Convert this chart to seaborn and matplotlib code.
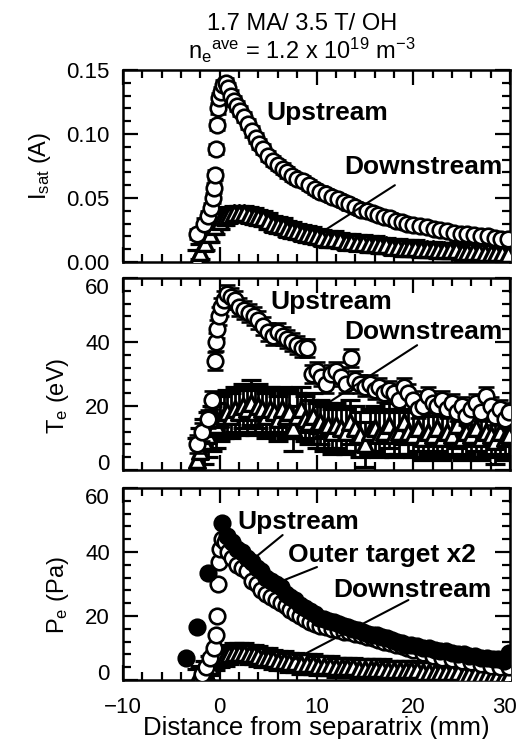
import numpy as np
import pandas as pd
import matplotlib
matplotlib.use("Agg")
import matplotlib.pyplot as plt
import matplotlib.transforms as mtransforms
from matplotlib.ticker import MultipleLocator, FormatStrFormatter
import seaborn as sns

# ---------------- data ----------------
# Isat upstream (circles)
isat_up_x = [-2.3, -1.6, -1.2, -0.9, -0.7, -0.6, -0.5, -0.4, -0.3, -0.2, -0.1, 0.1, 0.3, 0.6, 0.9,
             1.2, 1.5, 1.8, 2.1, 2.5, 2.9, 3.3, 3.7, 4.1, 4.5, 5.0, 5.5, 6.0, 6.5, 7.0, 7.5, 8.0,
             8.6, 9.2, 9.8, 10.4, 11.0, 11.6, 12.2, 12.8, 13.4, 14.0, 14.6, 15.2, 15.8, 16.4, 17.0,
             17.6, 18.2, 18.8, 19.4, 20.0, 20.7, 21.4, 22.1, 22.8, 23.5, 24.2, 24.9, 25.6, 26.3,
             27.0, 27.7, 28.4, 29.1, 29.8]
isat_up_y = [0.022, 0.030, 0.036, 0.042, 0.050, 0.058, 0.068, 0.088, 0.107, 0.120, 0.128, 0.133, 0.138,
             0.140, 0.136, 0.130, 0.126, 0.122, 0.118, 0.113, 0.108, 0.102, 0.097, 0.092, 0.088, 0.083,
             0.079, 0.076, 0.073, 0.070, 0.067, 0.065, 0.063, 0.060, 0.057, 0.055, 0.053, 0.051, 0.049,
             0.047, 0.045, 0.043, 0.041, 0.040, 0.038, 0.037, 0.035, 0.034, 0.032, 0.031, 0.030, 0.029,
             0.028, 0.027, 0.026, 0.025, 0.024, 0.023, 0.022, 0.022, 0.021, 0.020, 0.020, 0.019, 0.018,
             0.018]
isat_up_err = 0.004
# Isat downstream (triangles)
isat_dn_x = [-2.4, -2.0, -1.5, -1.0, -0.5, 0.0, 0.5, 1.0, 1.5, 2.0, 2.5, 3.0, 3.5, 4.0, 4.5, 5.0,
             5.5, 6.0, 6.5, 7.0, 7.5, 8.0, 8.5, 9.0, 9.5, 10.0, 10.6, 11.2, 11.8, 12.4, 13.0, 13.6,
             14.2, 14.8, 15.4, 16.0, 16.6, 17.2, 17.8, 18.4, 19.0, 19.6, 20.2, 20.8, 21.4, 22.0,
             22.6, 23.2, 23.8, 24.4, 25.0, 25.6, 26.2, 26.8, 27.4, 28.0, 28.6, 29.2, 29.8]
isat_dn_y = [0.003, 0.008, 0.015, 0.022, 0.028, 0.032, 0.035, 0.037, 0.038, 0.038, 0.038, 0.037, 0.036,
             0.035, 0.034, 0.032, 0.030, 0.029, 0.028, 0.026, 0.025, 0.024, 0.023, 0.022, 0.021, 0.020,
             0.019, 0.018, 0.018, 0.017, 0.016, 0.016, 0.015, 0.015, 0.014, 0.014, 0.013, 0.013, 0.012,
             0.012, 0.011, 0.011, 0.011, 0.010, 0.010, 0.010, 0.009, 0.009, 0.009, 0.009, 0.008, 0.008,
             0.008, 0.008, 0.007, 0.007, 0.007, 0.007, 0.006]
isat_dn_err = 0.006

# Te upstream (circles)
te_up_x = [-2.3, -1.8, -1.2, -0.8, -0.5, -0.4, -0.3, -0.1, 0.1, 0.4, 0.8, 1.2, 1.6, 2.0, 2.5, 3.0,
           3.5, 4.0, 4.5, 5.0, 5.5, 6.0, 6.5, 7.0, 7.5, 8.0, 8.5, 9.0, 9.5, 10.0, 10.5, 11.0, 11.5,
           12.0, 12.5, 13.0, 13.6, 14.0, 14.5, 15.0, 15.5, 16.0, 16.5, 17.0, 17.5, 18.0, 18.5, 19.0,
           19.5, 20.0, 20.5, 21.0, 21.5, 22.0, 22.5, 23.0, 23.5, 24.0, 24.5, 25.0, 25.5, 26.0, 26.5,
           27.0, 27.5, 28.0, 28.5, 29.0, 29.5, 29.9]
te_up_y = [8, 12, 16, 22, 34, 40, 44, 48, 51, 53, 55, 54, 53, 51, 50, 49, 48, 47, 45, 43, 42, 43, 42,
           41, 40, 39, 38, 38, 30, 31, 29, 27, 30, 31, 29, 27, 35, 28, 27, 26, 27, 25, 26, 24, 25, 24,
           22, 26, 24, 22, 19, 20, 23, 21, 20, 22, 19, 21, 18, 20, 17, 19, 21, 18, 23, 20, 17, 19, 16,
           18]
te_up_err = 2.8
# Te downstream (triangles)
te_dn_x = [-2.4, -2.0, -1.6, -1.2, -0.8, -0.4, 0.0, 0.4, 0.8, 1.2, 1.6, 2.0, 2.4, 2.8, 3.2, 3.6, 4.0,
           4.4, 4.8, 5.2, 5.6, 6.0, 6.4, 6.8, 7.2, 7.6, 8.0, 8.4, 8.8, 9.2, 9.6, 10.0, 10.4, 10.8,
           11.2, 11.6, 12.0, 12.5, 13.0, 13.5, 14.0, 14.5, 15.0, 15.5, 16.0, 16.5, 17.0, 17.5, 18.0,
           18.5, 19.0, 19.5, 20.0, 20.5, 21.0, 21.5, 22.0, 22.5, 23.0, 23.5, 24.0, 24.5, 25.0, 25.5,
           26.0, 26.5, 27.0, 27.5, 28.0, 28.5, 29.0, 29.5, 29.9]
te_dn_y = [3, 6, 9, 11, 13, 14, 16, 17, 18, 17, 19, 18, 20, 19, 21, 18, 20, 19, 17, 19, 18, 16, 19,
           17, 18, 13, 17, 19, 16, 15, 17, 14, 15, 13, 14, 12, 14, 13, 12, 15, 13, 11, 8, 12, 13, 11,
           12, 14, 11, 12, 15, 12, 11, 13, 10, 12, 11, 13, 10, 12, 11, 14, 10, 12, 11, 13, 10, 12, 11,
           9, 12, 10, 11]
te_dn_err = 7

# Pe upstream (open circles)
pe_up_x = [-1.8, -1.4, -1.0, -0.6, -0.4, -0.3, -0.2, -0.1, 0.0, 0.2, 0.5, 0.9, 1.3, 1.8, 2.3, 2.8,
           3.3, 3.8, 4.3, 4.8, 5.3, 5.8, 6.3, 6.8, 7.3, 7.8, 8.3, 8.8, 9.3, 9.8, 10.4, 11.0, 11.6,
           12.2, 12.8, 13.4, 14.0, 14.6, 15.2, 15.8, 16.4, 17.0, 17.6, 18.2, 18.8, 19.4, 20.0, 21.0,
           22.0, 23.0, 24.0, 25.0, 26.0, 27.0, 28.0, 29.0, 29.9]
pe_up_y = [2, 4, 7, 10, 14, 20, 30, 37, 41, 44, 43, 40, 38, 36, 35, 34, 31, 30, 28, 27, 26, 25, 24, 23,
           22, 21, 20, 19, 18, 17.5, 17, 16.5, 16, 15.5, 15, 15, 14.5, 14, 13.5, 13, 12.5, 12, 11.5,
           11, 10.5, 10, 9.5, 8.5, 7.5, 7, 6.5, 6, 5.5, 5, 4.5, 4, 4]
# Pe outer target x2 (filled circles)
pe_tg_x = [-3.5, -2.3, -1.2, 0.2, 0.8, 1.3, 1.8, 2.3, 2.8, 3.3, 3.8, 4.3, 4.8, 5.3, 5.8, 6.3, 6.8,
           7.3, 7.8, 8.3, 8.8, 9.3, 9.8, 10.3, 10.8, 11.3, 11.8, 12.3, 12.8, 13.3, 13.8, 14.3, 14.8,
           15.3, 15.8, 16.3, 16.8, 17.3, 17.8, 18.3, 18.8, 19.3, 19.8, 20.4, 21.0, 21.6, 22.2, 22.8,
           23.4, 24.0, 24.6, 25.2, 25.8, 26.4, 27.0, 27.6, 28.2, 28.8, 29.4, 29.9]
pe_tg_y = [7, 16.6, 33.4, 49, 45, 43, 41, 40, 38, 37, 35, 34, 32, 31, 30, 29, 27, 26, 25, 23.5, 22.5,
           21.5, 20.5, 19.5, 19, 18.5, 18, 17.5, 17, 16.5, 16, 15.5, 15, 14.5, 14, 14, 13.5, 13, 12.5,
           12, 11.5, 11, 11, 10.5, 10, 10, 9.5, 9, 9, 8.5, 8, 8, 7.5, 7.5, 7, 7, 6.5, 6.5, 6, 8.4]
# Pe downstream (triangles)
pe_dn_x = [-2.4, -2.0, -1.5, -1.0, -0.5, 0.0, 0.5, 1.0, 1.5, 2.0, 2.5, 3.0, 3.5, 4.0, 4.5, 5.0, 5.5,
           6.0, 6.6, 7.2, 7.8, 8.4, 9.0, 9.6, 10.2, 10.8, 11.4, 12.0, 12.6, 13.2, 13.8, 14.4, 15.0,
           15.6, 16.2, 16.8, 17.4, 18.0, 18.6, 19.2, 19.8, 20.4, 21.0, 21.6, 22.2, 22.8, 23.4, 24.0,
           24.6, 25.2, 25.8, 26.4, 27.0, 27.6, 28.2, 28.8, 29.4, 29.9]
pe_dn_y = [0.5, 1.5, 3, 4.5, 6, 7, 7.5, 8, 8.5, 8.5, 8.5, 8, 8, 7.5, 7, 7, 6.5, 6, 6, 5.5, 5.5, 5, 5,
           5, 4.5, 4.5, 4.5, 4, 4, 4, 4, 3.5, 3.5, 3.5, 3.5, 3.5, 3, 3, 3, 3, 3, 3, 2.5, 2.5, 2.5, 2.5,
           2.5, 2.5, 2.5, 2, 2, 2, 2, 2, 2, 2, 1.5, 1.5]
pe_dn_err = 3

title1 = "1.7 MA/ 3.5 T/ OH"
title2 = r"n$_e$$^{ave}$ = 1.2 x 10$^{19}$ m$^{-3}$"
xlabel = "Distance from separatrix (mm)"
ylabels = [r"I$_{sat}$ (A)", r"T$_e$ (eV)", r"P$_e$ (Pa)"]
xticks = [-10, 0, 10, 20, 30]

# ---------------- style ----------------
sns.set_theme(style="ticks")
plt.rcParams["font.family"] = ["Liberation Sans", "DejaVu Sans"]
plt.rcParams["mathtext.default"] = "regular"
for k in ["text.color", "axes.labelcolor", "xtick.color", "ytick.color", "axes.edgecolor"]:
    plt.rcParams[k] = "black"

W, H = 520, 739
fig = plt.figure(figsize=(W / 100, H / 100), dpi=100)
left, right = 123 / W, 510 / W
panels_px = [(70, 262), (278, 470), (488, 680)]
axes = []
for top, bot in panels_px:
    ax = fig.add_axes([left, 1 - bot / H, right - left, (bot - top) / H])
    axes.append(ax)

TICK_FS = 16
LAB_FS = 17
XLAB_FS = 18.5
ANN_FS = 19
LW = 1.9


def circles(ax, x, y, filled=False, z=4):
    df = pd.DataFrame({"x": x, "y": y})
    sns.scatterplot(data=df, x="x", y="y", ax=ax, marker="o", s=125,
                    facecolor="black" if filled else "white",
                    edgecolor="black", linewidth=LW, zorder=z, legend=False)


def ebars(ax, x, y, err, z, cap=5.5, lw=1.6):
    ax.errorbar(x, y, yerr=err, fmt="none", ecolor="black",
                elinewidth=lw, capsize=cap, capthick=lw + 0.3, zorder=z)


def triangles(ax, x, y, err, z=3):
    df = pd.DataFrame({"x": x, "y": y})
    ebars(ax, df["x"], df["y"], err, z - 0.5, cap=7, lw=2.0)
    sns.scatterplot(data=df, x="x", y="y", ax=ax, marker="^", s=130,
                    facecolor="white", edgecolor="black", linewidth=2.4,
                    zorder=z, legend=False)


def note(ax, x, y, s):
    ax.text(x, y, s, fontsize=ANN_FS, fontweight="bold",
            ha="center", va="center", zorder=6)


def leader(ax, xs, ys):
    ax.plot(xs, ys, color="black", lw=1.5, zorder=6)


# Panel 1
ax = axes[0]
triangles(ax, isat_dn_x, isat_dn_y, isat_dn_err)
ebars(ax, isat_up_x, isat_up_y, isat_up_err, 3.8)
circles(ax, isat_up_x, isat_up_y)
ax.set_ylim(0, 0.15)
ax.yaxis.set_major_locator(MultipleLocator(0.05))
ax.yaxis.set_minor_locator(MultipleLocator(0.01))
ax.yaxis.set_major_formatter(FormatStrFormatter("%.2f"))
note(ax, 11.1, 0.1164, "Upstream")
note(ax, 21.0, 0.0742, "Downstream")
leader(ax, [18.1, 10.9], [0.060, 0.025])

# Panel 2
ax = axes[1]
triangles(ax, te_dn_x, te_dn_y, te_dn_err)
ebars(ax, te_up_x, te_up_y, te_up_err, 3.8)
circles(ax, te_up_x, te_up_y)
ax.set_ylim(0, 60)
ax.yaxis.set_major_locator(MultipleLocator(20))
ax.yaxis.set_minor_locator(MultipleLocator(4))
note(ax, 11.5, 52.5, "Upstream")
note(ax, 21.0, 43.1, "Downstream")
leader(ax, [20.4, 10.4], [39, 19.4])

# Panel 3
ax = axes[2]
triangles(ax, pe_dn_x, pe_dn_y, pe_dn_err)
circles(ax, pe_up_x, pe_up_y, z=4)
circles(ax, pe_tg_x, pe_tg_y, filled=True, z=4.5)
ax.set_ylim(0, 60)
ax.yaxis.set_major_locator(MultipleLocator(20))
ax.yaxis.set_minor_locator(MultipleLocator(4))
note(ax, 8.1, 49.4, "Upstream")
leader(ax, [6.5, 3.1], [45.3, 36.9])
note(ax, 16.8, 39.0, "Outer target x2")
leader(ax, [10.05, 5.9], [35.3, 30.3])
note(ax, 19.9, 28.1, "Downstream")
leader(ax, [19.5, 7.6], [25, 6.25])

label_y = [0.5, 0.385, 0.443]
for i, ax in enumerate(axes):
    ax.set_xlim(-10, 30)
    ax.xaxis.set_major_locator(MultipleLocator(10))
    ax.xaxis.set_minor_locator(MultipleLocator(2))
    ax.tick_params(which="both", direction="in", top=True, right=True,
                   labelsize=TICK_FS, colors="black")
    ax.tick_params(axis="y", which="both", pad=9.5)
    ax.tick_params(axis="x", which="both", pad=12)
    ax.tick_params(which="major", length=11, width=1.6)
    ax.tick_params(which="minor", length=6, width=1.6)
    for sp in ax.spines.values():
        sp.set_visible(True)
        sp.set_color("black")
        sp.set_linewidth(1.8)
    ax.set_ylabel(ylabels[i], fontsize=LAB_FS, labelpad=10)
    ax.yaxis.label.set_y(label_y[i])
    if i < 2:
        ax.set_xlabel("")
        ax.tick_params(labelbottom=False)
    else:
        ax.set_xticks(xticks)
        ax.set_xlabel(xlabel, fontsize=XLAB_FS, labelpad=-1)

fig.text(302 / W, 1 - 24 / H, title1, fontsize=17, ha="center", va="center")
fig.text(302 / W, 1 - 50 / H, title2, fontsize=17, ha="center", va="center")

# keep the end tick labels of the Te and Pe panels inside the frame
fig.canvas.draw()
for ax in axes[1:]:
    lo, hi = ax.get_ylim()
    for t in ax.yaxis.get_major_ticks():
        loc = t.get_loc()
        if abs(loc - lo) < 1e-9:
            t.label1.set_va("baseline")
        elif abs(loc - hi) < 1e-9:
            t.label1.set_va("top")
# nudge the last x tick label so it stays within the figure
for t in axes[2].xaxis.get_major_ticks():
    if abs(t.get_loc() - 30) < 1e-9:
        t.label1.set_transform(t.label1.get_transform() +
                               mtransforms.ScaledTranslation(-6 / 100, 0, fig.dpi_scale_trans))

fig.savefig("out.png", dpi=100)
